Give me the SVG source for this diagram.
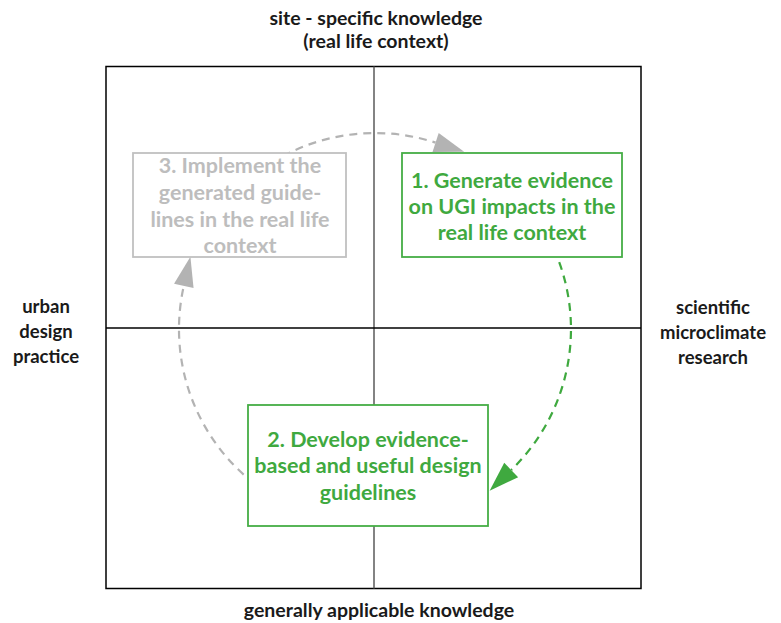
<svg xmlns="http://www.w3.org/2000/svg" width="781" height="623" viewBox="0 0 781 623">
<style>
.lbl{font-family:Lato,"Liberation Sans",sans-serif;font-weight:700;font-size:19.5px;fill:#1a1a1a;text-anchor:middle}
.side{font-size:18.5px}
.bt{font-family:Lato,"Liberation Sans",sans-serif;font-weight:700;font-size:21.5px;text-anchor:middle}
.g{fill:#3fa93f}
.gr{fill:#bdbdbd}
.boxg{fill:#fff;stroke:#45ad45;stroke-width:1.8}
.boxgr{fill:#fff;stroke:#c0c0c0;stroke-width:1.8}
.arcg{fill:none;stroke:#3fa93f;stroke-width:2.2;stroke-dasharray:8 6}
.arcgr{fill:none;stroke:#b3b3b3;stroke-width:2.2;stroke-dasharray:8 6}
</style>
<defs>
<marker id="mgr" markerUnits="userSpaceOnUse" markerWidth="30" markerHeight="20" viewBox="0 0 30 20" refX="0" refY="10" orient="auto" overflow="visible"><path d="M0,0 L30,10 L0,20 z" fill="#b3b3b3"/></marker>
<marker id="mg" markerUnits="userSpaceOnUse" markerWidth="30" markerHeight="20" viewBox="0 0 30 20" refX="0" refY="10" orient="auto" overflow="visible"><path d="M0,0 L30,10 L0,20 z" fill="#3fa93f"/></marker>
</defs>
<rect width="781" height="623" fill="#fff"/>
<g id="frame">
<rect x="106" y="66.5" width="535" height="522" fill="none" stroke="#000" stroke-width="1.5"/>
<line x1="374" y1="66.5" x2="374" y2="588.5" stroke="#5a5a5a" stroke-width="1.5"/>
<line x1="106" y1="328" x2="641" y2="328" stroke="#000" stroke-width="1.5"/>
</g>
<g id="labels">
<text class="lbl" x="376" y="25">site - specific knowledge</text>
<text class="lbl" x="376" y="48">(real life context)</text>
<text class="lbl" x="379" y="617">generally applicable knowledge</text>
<text class="lbl side" x="46" y="313">urban</text>
<text class="lbl side" x="46" y="338">design</text>
<text class="lbl side" x="46" y="363">practice</text>
<text class="lbl side" x="713" y="314">scientific</text>
<text class="lbl side" x="713" y="339">microclimate</text>
<text class="lbl side" x="713" y="364">research</text>
</g>
<g id="connectors">
<path class="arcgr" d="M283,156 A196,196 0 0 1 435.6,142.6" marker-end="url(#mgr)"/>
<path class="arcg" d="M554,249.3 A196,196 0 0 1 511.2,470" marker-end="url(#mg)"/>
<path class="arcgr" d="M254.3,483.5 A196,196 0 0 1 183.8,285.9" marker-end="url(#mgr)"/>
</g>
<g id="node3">
<rect class="boxgr" x="133" y="153" width="213" height="104"/>
<text class="bt gr" x="240" y="173">3. Implement the</text>
<text class="bt gr" x="240" y="200">generated guide-</text>
<text class="bt gr" x="240" y="227">lines in the real life</text>
<text class="bt gr" x="240" y="253">context</text>
</g>
<g id="node1">
<rect class="boxg" x="402" y="153" width="220" height="104"/>
<text class="bt g" x="512" y="188">1. Generate evidence</text>
<text class="bt g" x="512" y="214">on UGI impacts in the</text>
<text class="bt g" x="512" y="240">real life context</text>
</g>
<g id="node2">
<rect class="boxg" x="248" y="405" width="240" height="121"/>
<text class="bt g" x="368" y="447">2. Develop evidence-</text>
<text class="bt g" x="368" y="473">based and useful design</text>
<text class="bt g" x="368" y="500">guidelines</text>
</g>
</svg>
